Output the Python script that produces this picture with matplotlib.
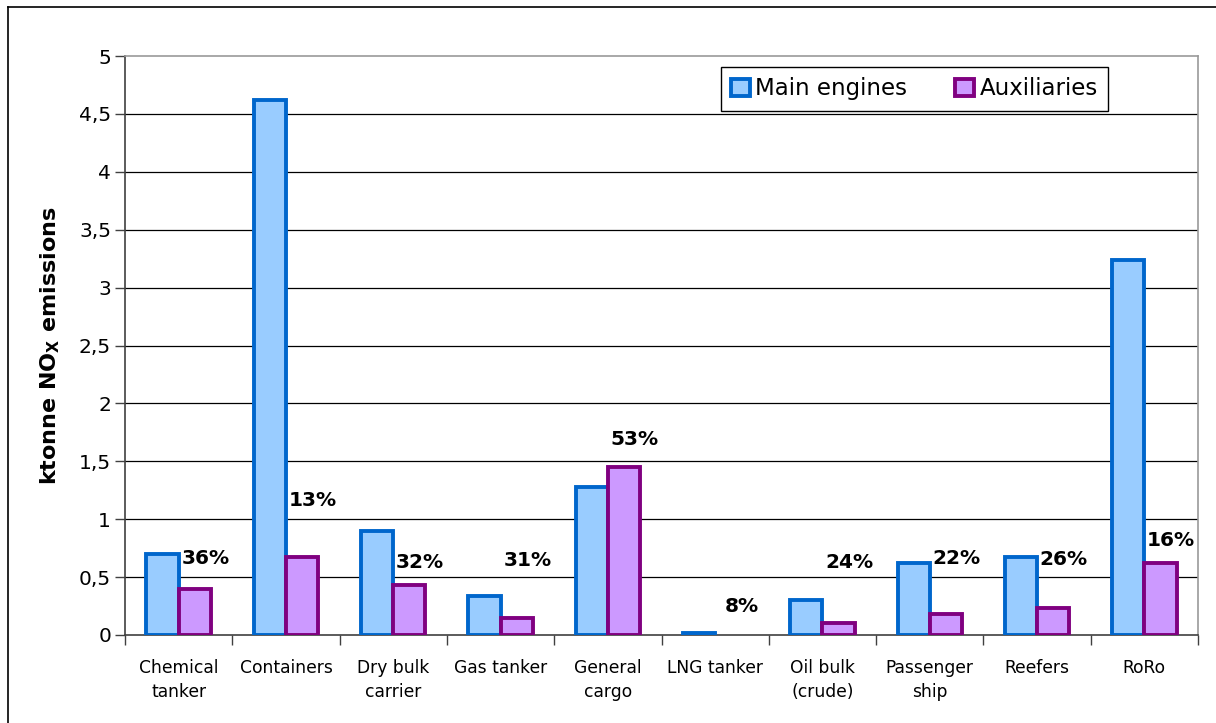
import numpy as np
import matplotlib.pyplot as plt
from matplotlib.lines import Line2D

# Data
categories = ['Chemical\ntanker', 'Containers', 'Dry bulk\ncarrier', 'Gas tanker',
              'General\ncargo', 'LNG tanker', 'Oil bulk\n(crude)', 'Passenger\nship',
              'Reefers', 'RoRo']
main_engines = [0.70, 4.62, 0.90, 0.34, 1.28, 0.015, 0.30, 0.62, 0.67, 3.24]
auxiliaries = [0.40, 0.67, 0.43, 0.15, 1.45, 0.0, 0.10, 0.18, 0.235, 0.62]
aux_share = ['36%', '13%', '32%', '31%', '53%', '8%', '24%', '22%', '26%', '16%']
label_y = [0.66, 1.16, 0.63, 0.64, 1.69, 0.245, 0.63, 0.66, 0.65, 0.82]
yticks = [0, 0.5, 1, 1.5, 2, 2.5, 3, 3.5, 4, 4.5, 5]
ytick_labels = ['0', '0,5', '1', '1,5', '2', '2,5', '3', '3,5', '4', '4,5', '5']

plt.rcParams['font.family'] = ['DejaVu Sans']
plt.rcParams['mathtext.fontset'] = 'dejavusans'

fig = plt.figure(figsize=(12.16, 7.23), dpi=100)
ax = fig.add_axes([125 / 1216, 1 - 635 / 723, (1198 - 125) / 1216, (635 - 56) / 723])

x = np.arange(len(categories))
w = 0.3
b1 = ax.bar(x - w / 2, main_engines, w, color='#99CCFF', edgecolor='#0066CC',
            linewidth=2.8, label='Main engines', zorder=3)
b2 = ax.bar(x + w / 2, auxiliaries, w, color='#CC99FF', edgecolor='#800080',
            linewidth=2.8, label='Auxiliaries', zorder=3)
# zero-height bars show nothing
for bars, vals in [(b1, main_engines), (b2, auxiliaries)]:
    for p, v in zip(bars.patches, vals):
        if v == 0:
            p.set_visible(False)

# percentage labels
for i in range(len(categories)):
    ax.text(x[i] + 0.25, label_y[i], aux_share[i], ha='center', va='center',
            fontsize=14.5, fontweight='bold', zorder=5)

ax.set_xlim(-0.5, len(categories) - 0.5)
ax.set_ylim(0, 5)

# y axis
ax.set_yticks(yticks)
ax.set_yticklabels(ytick_labels, fontsize=14.5)
ax.tick_params(axis='y', direction='out', length=7, width=1, color='#404040', pad=3)
for yv in yticks[1:-1]:
    ax.axhline(yv, color='black', linewidth=0.9, zorder=1)

# x axis: ticks at category boundaries, labels centered
ax.set_xticks(np.arange(len(categories) + 1) - 0.5)
ax.set_xticklabels([])
ax.tick_params(axis='x', which='major', direction='out', length=7, width=1, color='#404040')
ax.set_xticks(x, minor=True)
ax.set_xticklabels(categories, minor=True, fontsize=12.3, linespacing=1.45)
ax.tick_params(axis='x', which='minor', length=0, pad=17)

for s in ['left', 'bottom']:
    ax.spines[s].set_color('#404040')
    ax.spines[s].set_linewidth(1.2)
for s in ['top', 'right']:
    ax.spines[s].set_color('#999999')
    ax.spines[s].set_linewidth(1.2)

ax.set_ylabel(r'ktonne NO$_\mathbf{X}$ emissions', fontsize=16, fontweight='bold', labelpad=12)

leg = fig.legend(handles=[b1, b2], loc='upper right',
                 bbox_to_anchor=(1108 / 1216, 1 - 67 / 723), borderaxespad=0,
                 ncol=2, fontsize=16.5,
                 frameon=True, fancybox=False, edgecolor='black', framealpha=1,
                 handlelength=0.8, handleheight=0.8, handletextpad=0.25,
                 columnspacing=2.1, borderpad=0.45)
leg.get_frame().set_linewidth(1.0)

# outer chart border (left and top edges visible)
fig.add_artist(Line2D([8 / 1216, 8 / 1216], [0, 1 - 7 / 723], color='black', linewidth=1.2,
                      transform=fig.transFigure))
fig.add_artist(Line2D([8 / 1216, 1], [1 - 7 / 723, 1 - 7 / 723], color='black', linewidth=1.2,
                      transform=fig.transFigure))

fig.savefig('out.png', dpi=100)
